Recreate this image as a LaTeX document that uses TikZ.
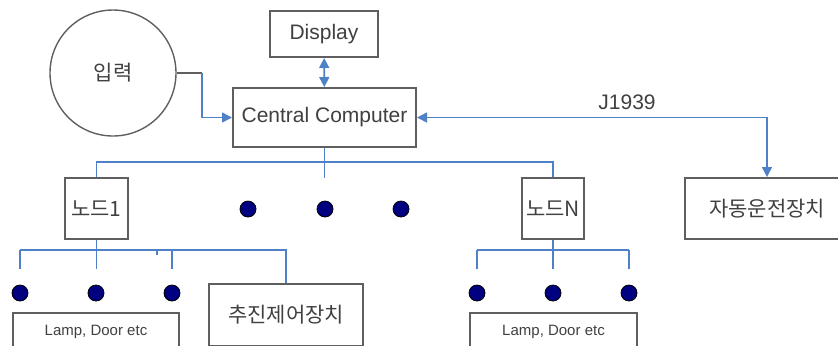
\documentclass[tikz,border=0pt]{standalone}
\usepackage{fontspec}
\setmainfont{Liberation Sans}
\newfontfamily\kr{Noto Sans CJK KR}
\usetikzlibrary{arrows.meta, positioning}
\definecolor{busblue}{HTML}{4F81C7}
\definecolor{dotnavy}{HTML}{000080}
\definecolor{boxgray}{HTML}{5F5F5F}
\definecolor{textgray}{HTML}{404040}

\begin{document}
\begin{tikzpicture}[x=0.5pt, y=-0.5pt, >={Triangle[length=5pt,width=5pt]},
    font=\fontsize{10.5}{12}\selectfont, text=textgray,
    box/.style={draw=boxgray, line width=1pt, inner sep=0pt, align=center},
    bus/.style={draw=busblue, line width=0.8pt},
    dot/.style={fill=dotnavy}]
    \clip (0,0) rectangle (838,345);

    % ── top row ───────────────────────────────────────────────────────
    \node[box, circle, line width=0.7pt, minimum size=63pt] (input) at (113,73) {\kr 입력};
    \node[box, minimum width=54pt, minimum height=23pt] (display) at (324,34) {Display};
    \node[box, minimum width=91.5pt, minimum height=29.5pt] (cc) at (324.5,117.5) {Central Computer};
    \node[box, minimum width=82pt, minimum height=30.5pt] (auto) at (767,208.5) {\kr 자동운전장치};

    \coordinate (inbend) at (202,73);
    \draw[boxgray, line width=0.7pt] (input.east) -- (inbend);
    \draw[bus, ->] (inbend) |- (cc.west);
    \draw[bus, <->] (display) -- (cc);
    \draw[bus, <->] (cc.east) -| node[above, pos=0.3] {J1939} (auto.north);

    % ── main bus ──────────────────────────────────────────────────────
    \node[box, minimum width=31.5pt, minimum height=30.5pt] (node1) at (96.5,208.5) {\kr 노드1};
    \node[box, minimum width=31pt, minimum height=30.5pt] (nodeN) at (553,208.5) {\kr 노드N};
    \coordinate (busL) at (96.5,162);
    \coordinate (busR) at (553,162);
    \coordinate (ccstub) at (324.5,178);
    \draw[bus] (node1.north) -- (busL) -- (busR) -- (nodeN.north);
    \draw[bus] (cc.south) -- (ccstub);
    \foreach \x in {248,325,401}
        \filldraw[dot] (\x,209) circle (4pt);

    % ── node 1 branch ─────────────────────────────────────────────────
    \node[box, minimum width=77pt, minimum height=31pt] (drive) at (286,315) {\kr 추진제어장치};
    \node[box, minimum width=83pt, minimum height=18.5pt, font=\fontsize{7.5}{9}\selectfont] (lamp1) at (96,331.5) {Lamp, Door etc};
    \coordinate (sub1L) at (20,250);
    \coordinate (sub1M) at (96.5,250);
    \draw[bus] (sub1L) -- (sub1M -| drive.north) -- (drive.north);
    \draw[bus] (node1.south) -- (96.5,269);
    \draw[bus] (sub1L) -- (20,269);
    \draw[bus] (172,250) -- (172,269);
    \draw[bus] (157,250) -- (157,255);
    \foreach \x in {20,96,172}
        \filldraw[dot] (\x,293) circle (4pt);

    % ── node N branch ─────────────────────────────────────────────────
    \node[box, minimum width=83.5pt, minimum height=18.5pt, font=\fontsize{7.5}{9}\selectfont] (lamp2) at (553.5,331.5) {Lamp, Door etc};
    \coordinate (subNL) at (477,250);
    \coordinate (subNR) at (629,250);
    \draw[bus] (subNL) -- (subNR);
    \draw[bus] (nodeN.south) -- (553,269);
    \draw[bus] (subNL) -- (477,269);
    \draw[bus] (subNR) -- (629,269);
    \foreach \x in {477,553,629}
        \filldraw[dot] (\x,293) circle (4pt);
\end{tikzpicture}
\end{document}
